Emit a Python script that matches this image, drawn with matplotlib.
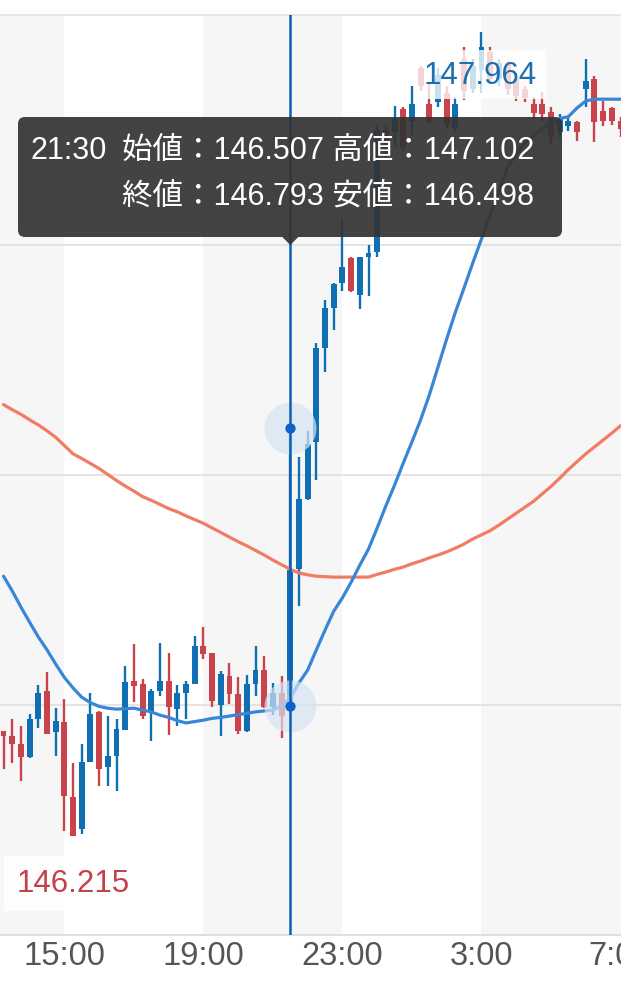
import numpy as np
import pandas as pd
import matplotlib
matplotlib.use('Agg')
import matplotlib.pyplot as plt
from matplotlib.patches import FancyBboxPatch, Polygon

# Data
# --------------------------------------------------------------------------
# 15 minute candles, 13:15 -> 7:00
times = pd.date_range('2023-09-01 13:15', periods=72, freq='15min')
opens = [146.443, 146.433, 146.415, 146.386, 146.470, 146.531, 146.441, 146.462, 146.299, 146.230,
         146.377, 146.484, 146.365, 146.390, 146.446, 146.553, 146.546, 146.484, 146.531, 146.553,
         146.491, 146.527, 146.546, 146.629, 146.612, 146.499, 146.564, 146.524, 146.444, 146.546,
         146.575, 146.495, 146.527, 146.507, 146.796, 146.948, 147.072, 147.277, 147.364, 147.417,
         147.472, 147.391, 147.474, 147.485, 147.750, 147.745, 147.795, 147.770, 147.885, 147.806,
         147.810, 147.830, 147.755, 147.905, 147.840, 147.880, 147.920, 147.860, 147.895, 147.860,
         147.840, 147.806, 147.806, 147.790, 147.745, 147.758, 147.767, 147.839, 147.861, 147.792,
         147.797, 147.770]
highs = [146.444, 146.470, 146.455, 146.480, 146.543, 146.571, 146.493, 146.512, 146.375, 146.415,
         146.527, 146.488, 146.477, 146.470, 146.584, 146.633, 146.557, 146.535, 146.635, 146.613,
         146.543, 146.553, 146.649, 146.669, 146.613, 146.575, 146.591, 146.560, 146.565, 146.629,
         146.606, 146.548, 146.564, 147.102, 147.040, 147.096, 147.288, 147.380, 147.418, 147.557,
         147.475, 147.474, 147.500, 147.760, 147.758, 147.803, 147.799, 147.846, 147.890, 147.850,
         147.885, 147.846, 147.822, 147.930, 147.905, 147.964, 147.930, 147.905, 147.900, 147.875,
         147.846, 147.822, 147.832, 147.800, 147.785, 147.777, 147.770, 147.904, 147.868, 147.814,
         147.800, 147.778]
lows = [146.361, 146.375, 146.335, 146.384, 146.449, 146.436, 146.390, 146.227, 146.215, 146.220,
        146.376, 146.325, 146.325, 146.312, 146.445, 146.506, 146.470, 146.422, 146.520, 146.435,
        146.455, 146.470, 146.545, 146.600, 146.495, 146.433, 146.502, 146.437, 146.442, 146.520,
        146.494, 146.478, 146.428, 146.498, 146.716, 146.945, 146.990, 147.223, 147.315, 147.399,
        147.398, 147.361, 147.390, 147.474, 147.690, 147.716, 147.705, 147.740, 147.835, 147.765,
        147.800, 147.755, 147.745, 147.815, 147.830, 147.830, 147.850, 147.846, 147.826, 147.814,
        147.810, 147.774, 147.770, 147.720, 147.735, 147.748, 147.727, 147.800, 147.723, 147.759,
        147.760, 147.734]
closes = [146.433, 146.415, 146.386, 146.470, 146.527, 146.437, 146.466, 146.303, 146.216, 146.375,
          146.480, 146.361, 146.390, 146.448, 146.551, 146.542, 146.477, 146.531, 146.553, 146.495,
          146.527, 146.546, 146.629, 146.611, 146.509, 146.567, 146.524, 146.444, 146.546, 146.575,
          146.495, 146.527, 146.477, 146.793, 146.948, 147.067, 147.277, 147.362, 147.416, 147.453,
          147.400, 147.474, 147.482, 147.750, 147.705, 147.774, 147.710, 147.806, 147.845, 147.770,
          147.870, 147.760, 147.806, 147.835, 147.890, 147.930, 147.860, 147.895, 147.840, 147.825,
          147.820, 147.788, 147.785, 147.735, 147.775, 147.770, 147.745, 147.857, 147.767, 147.770,
          147.770, 147.752]
# moving averages (blue = short, red = long)
ma_short = [146.780, 146.748, 146.713, 146.680, 146.648, 146.620, 146.589, 146.560, 146.537, 146.517,
            146.505, 146.497, 146.493, 146.491, 146.492, 146.493, 146.489, 146.485, 146.478, 146.473,
            146.466, 146.461, 146.464, 146.467, 146.471, 146.473, 146.476, 146.479, 146.482, 146.485,
            146.487, 146.489, 146.498, 146.515, 146.548, 146.576, 146.620, 146.663, 146.704, 146.733,
            146.767, 146.804, 146.839, 146.885, 146.933, 146.978, 147.026, 147.072, 147.120, 147.174,
            147.235, 147.296, 147.354, 147.407, 147.461, 147.513, 147.565, 147.617, 147.670, 147.698,
            147.722, 147.739, 147.752, 147.764, 147.775, 147.779, 147.798, 147.813, 147.817, 147.817,
            147.817, 147.817]
ma_long = [147.153, 147.142, 147.132, 147.120, 147.109, 147.096, 147.082, 147.064, 147.046, 147.036,
           147.025, 147.014, 147.001, 146.988, 146.976, 146.965, 146.953, 146.945, 146.936, 146.927,
           146.920, 146.911, 146.903, 146.895, 146.885, 146.875, 146.865, 146.855, 146.846, 146.836,
           146.826, 146.815, 146.805, 146.795, 146.787, 146.783, 146.780, 146.779, 146.778, 146.778,
           146.778, 146.778, 146.778, 146.784, 146.789, 146.795, 146.800, 146.807, 146.813, 146.820,
           146.826, 146.833, 146.841, 146.850, 146.861, 146.870, 146.879, 146.891, 146.904, 146.917,
           146.930, 146.943, 146.959, 146.975, 146.993, 147.012, 147.029, 147.046, 147.061, 147.076,
           147.091, 147.107]
tick_labels = ['15:00', '19:00', '23:00', '3:00', '7:00']
grid_levels = [146.0, 146.5, 147.0, 147.5, 148.0]
sel_time = '21:30'
# --------------------------------------------------------------------------

# Style
# --------------------------------------------------------------------------
W, H = 621, 987
c_up, c_dn = '#0f6fb2', '#c8434b'
c_ma_s, c_ma_l = '#3a86d6', '#f27b63'
band = '#f6f6f7'
plt.rcParams['font.family'] = ['Liberation Sans', 'Noto Sans CJK JP']

labels = ['{0}:{1:02d}'.format(t.hour, t.minute) for t in times]
x = np.arange(len(times))
o, h, l, c = map(np.array, (opens, highs, lows, closes))
sel = labels.index(sel_time)
tick_idx = [labels.index(t) for t in tick_labels]

fig = plt.figure(figsize=(W / 100, H / 100), dpi=100)
ax = fig.add_axes([0, 51 / H, 1, 920 / H])
x0 = sel - 290.3 / 8.69
x1 = sel + (W - 290.3) / 8.69
ax.set_xlim(x0, x1)
ax.set_ylim(grid_levels[0], grid_levels[-1])
# --------------------------------------------------------------------------

# Background bands + grid
# --------------------------------------------------------------------------
edges = [x0] + tick_idx + [x1]
for i in range(0, len(edges) - 1, 2):
    ax.axvspan(edges[i], edges[i + 1], color=band, lw=0, zorder=0)
for g in grid_levels[1:-1]:
    ax.axhline(g, color='#e2e2e4', lw=1.3, zorder=0.5)
for s in ['left', 'right']:
    ax.spines[s].set_visible(False)
ax.spines['bottom'].set_color('#dcdcde')
ax.spines['bottom'].set_linewidth(1.3)
ax.spines['top'].set_color('#e4e4e6')
ax.spines['top'].set_linewidth(1.3)
ax.set_yticks([])
ax.set_xticks(tick_idx)
ax.set_xticklabels(tick_labels, fontsize=23.5, color='#555555')
ax.tick_params(axis='x', length=0, pad=3.5)
# --------------------------------------------------------------------------

# Candles + moving averages
# --------------------------------------------------------------------------
cols = np.where(c >= o, c_up, c_dn)
ax.vlines(x, l, h, colors=cols, lw=1.7, zorder=2)
body = np.maximum(np.abs(c - o), 0.004)
ax.bar(x, body, bottom=np.minimum(o, c), width=0.68, color=cols, zorder=2.1)
ax.plot(x, ma_long, color=c_ma_l, lw=2.3, zorder=3, solid_capstyle='round')
ax.plot(x, ma_short, color=c_ma_s, lw=2.3, zorder=3.1, solid_capstyle='round')

# high / low labels
imax, imin = int(np.argmax(h)), int(np.argmin(l))
ax.annotate('{0:.3f}'.format(h[imax]), xy=(imax, h[imax]), xytext=(-1, -31),
            textcoords='offset points', ha='center', va='center', fontsize=22.5,
            color='#1c6fae', zorder=4,
            bbox=dict(boxstyle='square,pad=0.3', fc='white', ec='none', alpha=0.78))
ax.annotate('{0:.3f}'.format(l[imin]), xy=(imin, l[imin]), xytext=(0, -34),
            textcoords='offset points', ha='center', va='center', fontsize=22.5,
            color='#c2414a', zorder=4,
            bbox=dict(boxstyle='square,pad=0.4', fc='white', ec='none', alpha=0.85))
# --------------------------------------------------------------------------

# Crosshair + tooltip
# --------------------------------------------------------------------------
ax.axvline(sel, color='#0b5fb5', lw=1.8, zorder=5)
ax.scatter([sel, sel], [h[sel], l[sel]], s=1400, color='#d6e4f3', alpha=0.7,
           lw=0, zorder=4.5)
ax.scatter([sel, sel], [h[sel], l[sel]], s=55, color='#0a62c8', lw=0, zorder=6)

px = ax.transData.transform((sel, 147.0))[0]
ov = fig.add_axes([0, 0, 1, 1])
ov.set_xlim(0, W)
ov.set_ylim(H, 0)
ov.axis('off')
ov.add_patch(FancyBboxPatch((18, 118), 544, 120, boxstyle='round,pad=0,rounding_size=7',
                            fc='#333333', ec='none', alpha=0.92))
ov.add_patch(Polygon([(px - 8, 238), (px + 8, 238), (px, 246)], closed=True,
                     fc='#333333', ec='none', alpha=0.92))
tip = dict(color='white', fontsize=22, va='center', ha='left')
ov.text(30, 151, labels[sel], **tip)
ov.text(122, 151, '始値：{0:.3f} 高値：{1:.3f}'.format(o[sel], h[sel]), **tip)
ov.text(122, 197, '終値：{0:.3f} 安値：{1:.3f}'.format(c[sel], l[sel]), **tip)
# --------------------------------------------------------------------------

fig.savefig('out.png', dpi=100)
